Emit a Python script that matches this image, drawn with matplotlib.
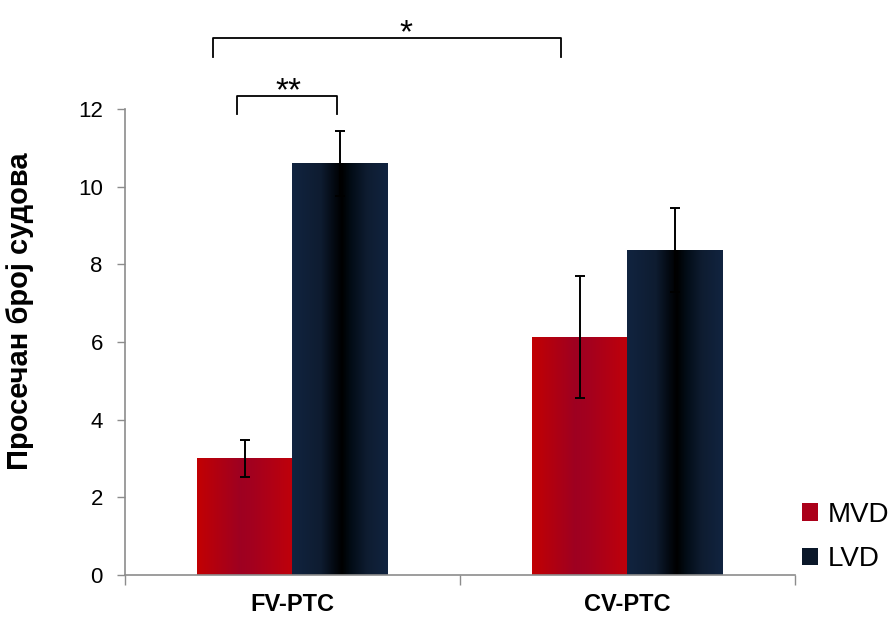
import numpy as np
import matplotlib
matplotlib.use("Agg")
import matplotlib.pyplot as plt
from matplotlib.colors import LinearSegmentedColormap
from matplotlib.patches import Patch

# mean vessel counts per group, with error bar half-widths
groups = ["FV-PTC", "CV-PTC"]
series = ["MVD", "LVD"]
mvd_mean = [3.0, 6.13]
mvd_err = [0.47, 1.57]
lvd_mean = [10.6, 8.37]
lvd_err = [0.83, 1.08]
yticks = [0, 2, 4, 6, 8, 10, 12]
ylabel = "Просечан број судова"

plt.rcParams["font.family"] = ["Liberation Sans", "DejaVu Sans"]

red_cmap = LinearSegmentedColormap.from_list("red_bar", [
    (0.0, (0.76, 0.0, 0.01)),
    (0.45, (0.62, 0.0, 0.13)),
    (0.58, (0.64, 0.0, 0.12)),
    (1.0, (0.75, 0.0, 0.04)),
])
navy_cmap = LinearSegmentedColormap.from_list("navy_bar", [
    (0.0, (0.067, 0.14, 0.25)),
    (0.3, (0.055, 0.11, 0.19)),
    (0.45, (0.01, 0.03, 0.06)),
    (0.52, (0.0, 0.0, 0.0)),
    (0.62, (0.01, 0.05, 0.09)),
    (0.78, (0.055, 0.11, 0.19)),
    (1.0, (0.067, 0.14, 0.25)),
])

fig = plt.figure(figsize=(8.94, 6.17), dpi=100)
ax = fig.add_axes([0.1398, 0.0681, 0.7494, 0.7553])

x = np.arange(len(groups))
w = 0.284
grad = np.linspace(0, 1, 256).reshape(1, -1)

def shaded_bars(xs, heights, cmap):
    bars = ax.bar(xs, heights, width=w, color="none", edgecolor="none", zorder=2)
    for b in bars:
        x0, y0 = b.get_x(), b.get_y()
        im = ax.imshow(grad, cmap=cmap, aspect="auto", interpolation="bilinear",
                       extent=[x0, x0 + b.get_width(), y0, y0 + b.get_height()],
                       zorder=2)
        im.set_clip_path(b)
    return bars

shaded_bars(x - w / 2, mvd_mean, red_cmap)
shaded_bars(x + w / 2, lvd_mean, navy_cmap)

ax.errorbar(x - w / 2, mvd_mean, yerr=mvd_err, fmt="none", ecolor="black",
            elinewidth=1.4, capsize=3.6, capthick=1.4, zorder=3)
ax.errorbar(x + w / 2, lvd_mean, yerr=lvd_err, fmt="none", ecolor="black",
            elinewidth=1.4, capsize=3.6, capthick=1.4, zorder=3)

ax.set_xlim(-0.5, 1.5)
ax.set_ylim(0, 12)
ax.set_yticks(yticks)
ax.tick_params(axis="y", direction="out", length=6, width=1, color="#8c8c8c",
               labelsize=16, pad=10)
ax.set_xticks([-0.5, 0.5, 1.5])
ax.set_xticklabels([])
ax.set_xticks(x, minor=True)
ax.set_xticklabels(groups, minor=True, fontsize=17, fontweight="bold")
ax.tick_params(axis="x", which="major", direction="out", length=7, width=1,
               color="#8c8c8c")
ax.tick_params(axis="x", which="minor", length=0, pad=13)
for s in ["top", "right"]:
    ax.spines[s].set_visible(False)
for s in ["left", "bottom"]:
    ax.spines[s].set_color("#8c8c8c")
    ax.spines[s].set_linewidth(1.2)

ax.set_ylabel(ylabel, fontsize=21, fontweight="bold")
ax.yaxis.set_label_coords(-0.136, 0.567)

# significance brackets above the bars
def bracket(x1, x2, y, drop, label, tx, ty):
    ax.plot([x1, x1, x2, x2], [y - drop, y, y, y - drop], color="black",
            lw=1.3, clip_on=False, solid_joinstyle="round")
    ax.text(tx, ty, label, ha="center", va="baseline", fontsize=24,
            clip_on=False)

bracket(-0.166, 0.133, 12.34, 0.47, "**", -0.012, 12.23)
bracket(-0.237, 0.801, 13.83, 0.49, "*", 0.339, 13.73)

handles = [Patch(facecolor=(0.67, 0.0, 0.1)), Patch(facecolor=(0.04, 0.09, 0.16))]
fig.legend(handles, series, loc="lower left", bbox_to_anchor=(0.897, 0.073),
           frameon=False, fontsize=20, handlelength=0.58, handleheight=0.58,
           handletextpad=0.35, labelspacing=0.65, borderpad=0, borderaxespad=0)

fig.savefig("out.png", dpi=100)
